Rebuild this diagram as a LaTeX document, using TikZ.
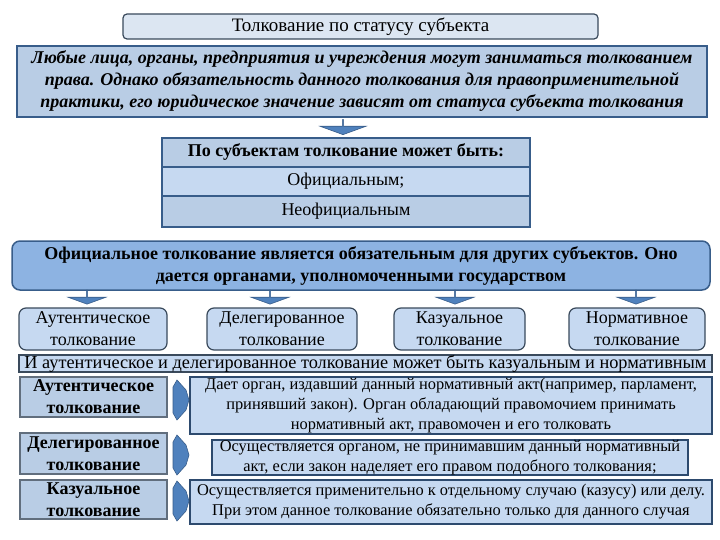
\documentclass[tikz,border=0pt]{standalone}
\usepackage{fontspec}
\setmainfont{Liberation Serif}
\usetikzlibrary{shapes.arrows}
\definecolor{pale}{HTML}{DCE6F2}
\definecolor{light}{HTML}{C6D9F1}
\definecolor{mid}{HTML}{B9CDE5}
\definecolor{deep}{HTML}{8DB3E2}
\definecolor{edge}{HTML}{385D8A}
\definecolor{dark}{HTML}{3A4A5C}
\definecolor{arr}{HTML}{4F81BD}
\begin{document}
\begin{tikzpicture}[x=1pt,y=-1pt,
  base/.style={anchor=north west,inner sep=0pt,outer sep=0pt,align=center,text=black},
  titlebox/.style={base,draw=dark,fill=pale,line width=1.2pt,rounded corners=4pt,font=\fontsize{19}{20}\selectfont},
  introbox/.style={base,draw=edge,fill=mid,line width=2.2pt,font=\fontsize{18}{22}\selectfont\bfseries\itshape},
  rowbox/.style={base,draw=edge,line width=1.5pt,font=\fontsize{18}{20}\selectfont},
  offbox/.style={base,draw=edge,fill=deep,line width=1.5pt,rounded corners=8pt,font=\fontsize{18}{22}\selectfont\bfseries},
  kindbox/.style={base,draw=dark,fill=light,line width=1.2pt,rounded corners=7pt,font=\fontsize{18}{22}\selectfont},
  longbox/.style={base,draw=dark,fill=light,line width=1.2pt,font=\fontsize{18.3}{18}\selectfont},
  namebox/.style={base,draw=dark!80,fill=mid,line width=1.5pt,font=\fontsize{18}{22}\selectfont\bfseries},
  textbox/.style={base,draw=edge!80!black,fill=light,line width=1.2pt,font=\fontsize{16.4}{20}\selectfont},
  downarrow/.style={single arrow,draw=edge,fill=arr,line width=0.6pt,shape border rotate=270,
     single arrow head extend=8pt,single arrow tip angle=140,inner sep=0pt,minimum width=38pt,minimum height=14pt},
  chevron/.style={draw=edge,fill=arr,line width=0.6pt}
]
\useasboundingbox[fill=white] (0,0) rectangle (720,540);

\node[titlebox,minimum width=475pt,minimum height=25pt] (title) at (123,14) {Толкование по статусу субъекта};

\node[introbox,minimum width=690pt,minimum height=71pt] (intro) at (17,46)
 {Любые лица, органы, предприятия и учреждения могут заниматься толкованием\\
  права. Однако обязательность данного толкования для правоприменительной\\
  практики, его юридическое значение зависят от статуса субъекта толкования};

\node[downarrow,minimum width=46pt,single arrow head extend=10pt,minimum height=15pt] (a0) at (343,127) {};

\node[rowbox,fill=mid,minimum width=368pt,minimum height=29pt] (r1) at (162,138) {\bfseries По субъектам толкование может быть:};
\node[rowbox,fill=light,minimum width=368pt,minimum height=29pt] (r2) at (162,167) {Официальным;};
\node[rowbox,fill=mid,minimum width=368pt,minimum height=31pt] (r3) at (162,196) {Неофициальным};

\node[offbox,minimum width=698pt,minimum height=49pt] (off) at (12,241)
 {Официальное толкование является обязательным для других субъектов. Оно\\
  дается органами, уполномоченными государством};

\node[downarrow] (a1) at (87,297) {};
\node[downarrow] (a2) at (270,297) {};
\node[downarrow] (a3) at (455,297) {};
\node[downarrow] (a4) at (636,297) {};

\node[kindbox,minimum width=148pt,minimum height=42pt] (k1) at (19,308) {Аутентическое\\толкование};
\node[kindbox,minimum width=150pt,minimum height=42pt] (k2) at (207,308) {Делегированное\\толкование};
\node[kindbox,minimum width=131pt,minimum height=42pt] (k3) at (394,308) {Казуальное\\толкование};
\node[kindbox,minimum width=136pt,minimum height=42pt] (k4) at (569,308) {Нормативное\\толкование};

\node[longbox,minimum width=693pt,minimum height=17pt] (long) at (19,355)
 {И аутентическое и делегированное толкование может быть казуальным и нормативным};

\node[namebox,minimum width=147pt,minimum height=40pt] (n1) at (20,377) {Аутентическое\\толкование};
\node[namebox,minimum width=147pt,minimum height=41pt] (n2) at (20,433) {Делегированное\\толкование};
\node[namebox,minimum width=147pt,minimum height=39pt] (n3) at (20,480) {Казуальное\\толкование};

\node[textbox,minimum width=522pt,minimum height=57pt] (t1) at (190,377)
 {Дает орган, издавший данный нормативный акт(например, парламент,\\
  принявший закон). Орган обладающий правомочием принимать\\
  нормативный акт, правомочен и его толковать};
\node[textbox,minimum width=476pt,minimum height=35pt] (t2) at (212,440)
 {Осуществляется органом, не принимавшим данный нормативный\\
  акт, если закон наделяет его правом подобного толкования;};
\node[textbox,minimum width=522pt,minimum height=44pt] (t3) at (190,480)
 {Осуществляется применительно к отдельному случаю (казусу) или делу.\\
  При этом данное толкование обязательно только для данного случая};

\foreach \y/\n in {400/c1,455/c2,501/c3}{
  \coordinate (\n) at (180,\y);
  \draw[chevron] (177,\y-20) -- (186,\y-10) -- (189,\y) -- (186,\y+10) -- (177,\y+20) -- (173,\y+13) -- (173,\y-13) -- cycle;
}
\end{tikzpicture}
\end{document}
